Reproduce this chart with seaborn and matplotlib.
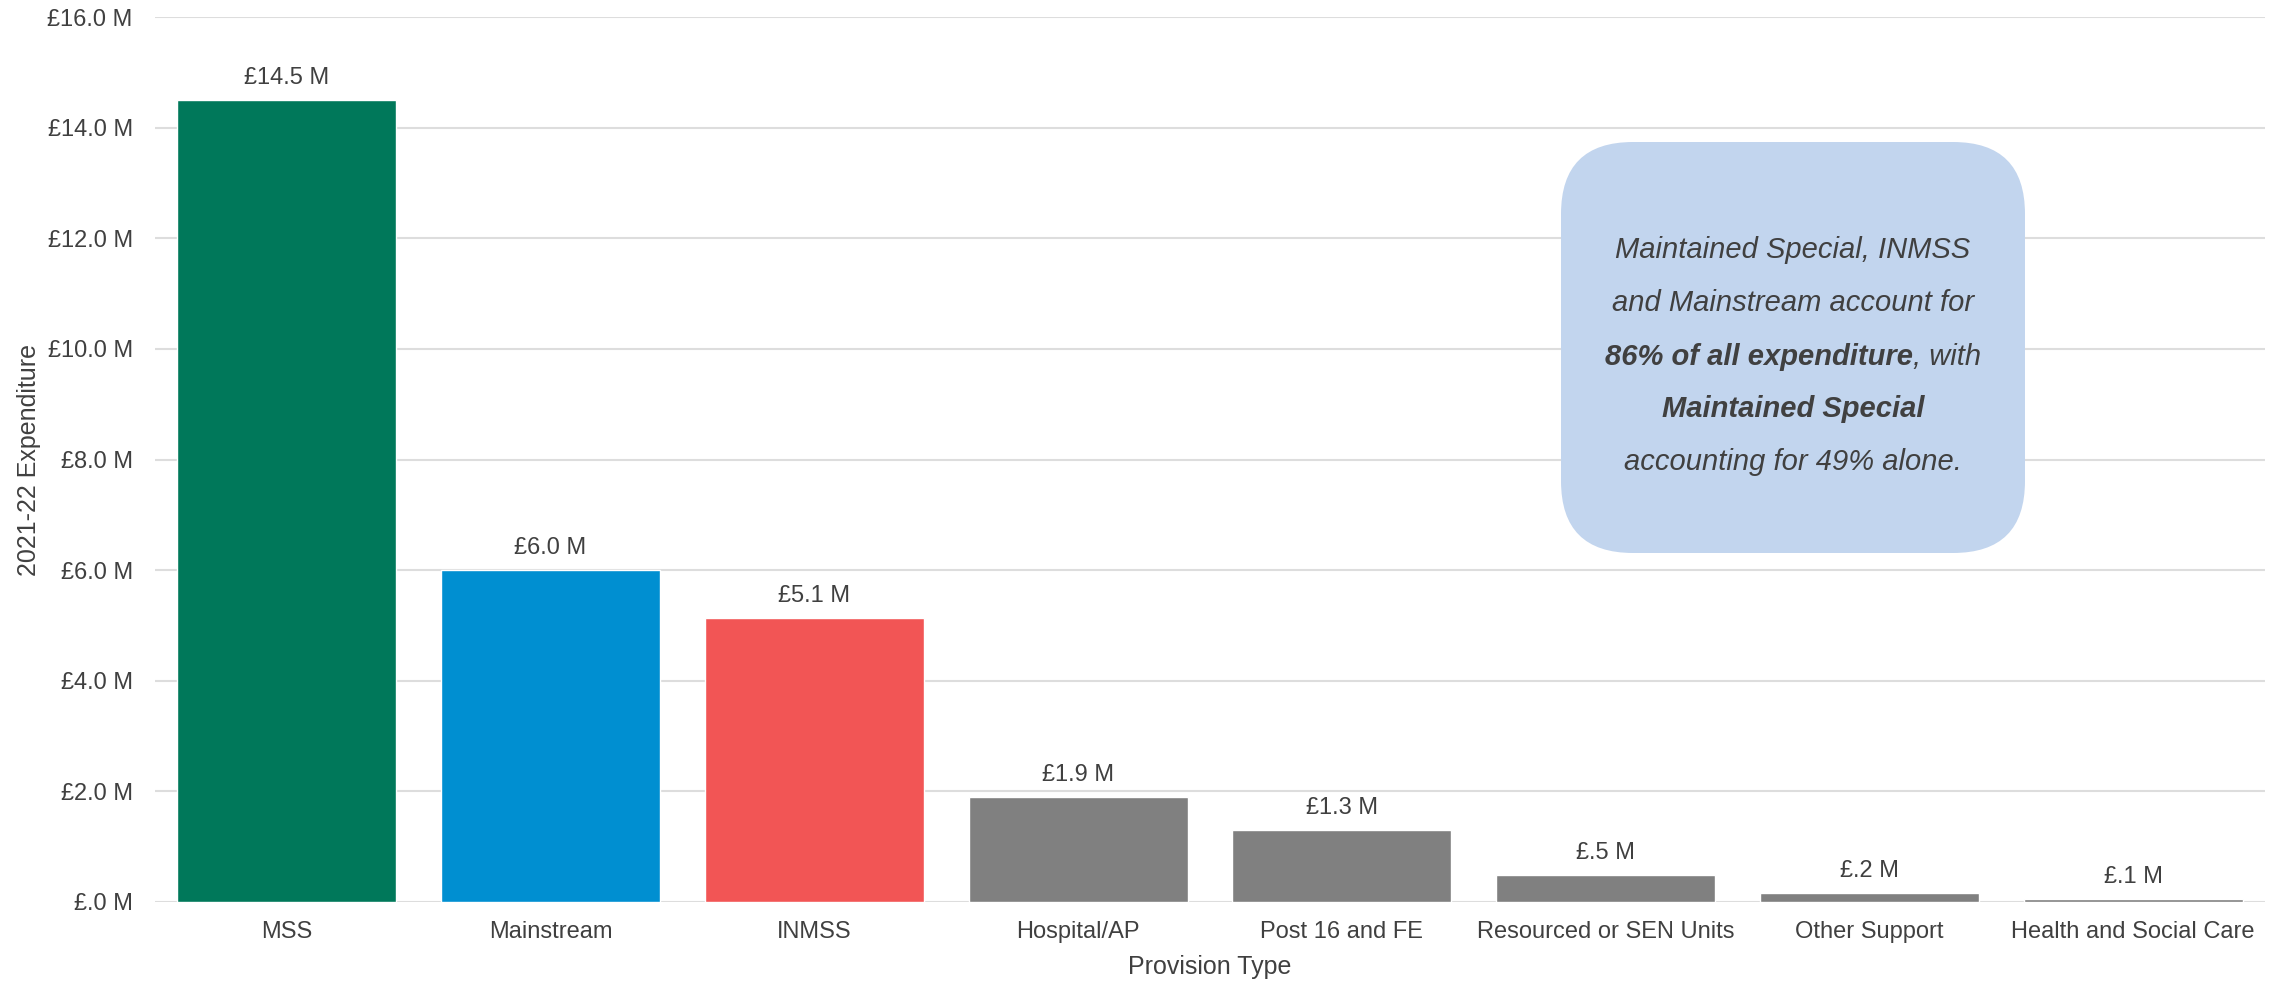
import matplotlib
matplotlib.use("Agg")
import matplotlib.pyplot as plt
from matplotlib.patches import FancyBboxPatch
from matplotlib.offsetbox import TextArea, HPacker, AnnotationBbox
from matplotlib.ticker import FuncFormatter
import seaborn as sns
import pandas as pd

# Expenditure by provision type, 2021-22 (£ millions)
provision_types = ["MSS", "Mainstream", "INMSS", "Hospital/AP", "Post 16 and FE",
                   "Resourced or SEN Units", "Other Support", "Health and Social Care"]
expenditure_m = [14.5, 6.0, 5.13, 1.9, 1.3, 0.48, 0.16, 0.06]
bar_colours = ["#00785A", "#008FD1", "#F25555", "#808080", "#808080",
               "#808080", "#808080", "#808080"]
y_ticks = [0, 2, 4, 6, 8, 10, 12, 14, 16]

TEXT = "#404040"
FONT = "Liberation Sans"

sns.set_theme(style="white")
plt.rcParams["font.family"] = [FONT, "DejaVu Sans"]

df = pd.DataFrame({"Provision Type": provision_types, "Expenditure": expenditure_m})

fig = plt.figure(figsize=(22.85, 9.83), dpi=100)
ax = fig.add_axes([155 / 2285, 1 - 902 / 983, (2265 - 155) / 2285, (902 - 17) / 983])

sns.barplot(data=df, x="Provision Type", y="Expenditure", hue="Provision Type",
            palette=bar_colours, width=0.83, legend=False, saturation=1, ax=ax, zorder=3)


def money(v):
    s = f"{v:.1f}"
    if s.startswith("0"):
        s = s[1:]
    return f"£{s} M"


ax.set_ylim(0, 16)
ax.set_xlim(-0.5, len(provision_types) - 0.5)
ax.set_yticks(y_ticks)
ax.yaxis.set_major_formatter(FuncFormatter(lambda v, p: money(v)))
ax.grid(axis="y", color="#DDDDDD", linewidth=1.5, zorder=0)
ax.set_axisbelow(True)
for s in ax.spines.values():
    s.set_visible(False)
ax.tick_params(axis="both", length=0, labelsize=17, labelcolor=TEXT)
ax.tick_params(axis="y", pad=16)
ax.tick_params(axis="x", pad=14)
ax.set_xlabel("Provision Type", fontsize=18, color=TEXT, labelpad=8)
ax.set_ylabel("2021-22 Expenditure", fontsize=18, color=TEXT, labelpad=8)
ax.yaxis.set_label_coords(-0.054, 0.5)

# value labels above each bar
for i, v in enumerate(expenditure_m):
    ax.annotate(money(v), (i, v), xytext=(0, 8), textcoords="offset points",
                ha="center", va="bottom", fontsize=17, color=TEXT)

# call-out box
r = 0.72
box = FancyBboxPatch((15.61, 9.83 - 5.53), 4.64, 4.11,
                     boxstyle=f"round,pad=0,rounding_size={r}",
                     transform=fig.dpi_scale_trans, facecolor="#C2D5EE",
                     edgecolor="none", zorder=5)
fig.patches.append(box)

it = dict(fontsize=21, style="italic", color=TEXT, family=FONT)
bi = dict(fontsize=21, style="italic", weight="bold", color=TEXT, family=FONT)
lines = [
    [("Maintained Special, INMSS", it)],
    [("and Mainstream account for", it)],
    [("86% of all expenditure", bi), (", with", it)],
    [("Maintained Special", bi)],
    [("accounting for 49% alone.", it)],
]
line_y = [250, 303, 357, 409, 462]
for parts, yp in zip(lines, line_y):
    pack = HPacker(children=[TextArea(t, textprops=p) for t, p in parts],
                   align="baseline", pad=0, sep=0)
    ab = AnnotationBbox(pack, (1793, 983 - yp), xycoords="figure pixels",
                        frameon=False, box_alignment=(0.5, 0.5), zorder=6)
    fig.add_artist(ab)

fig.savefig("out.png", dpi=100, facecolor="white")
